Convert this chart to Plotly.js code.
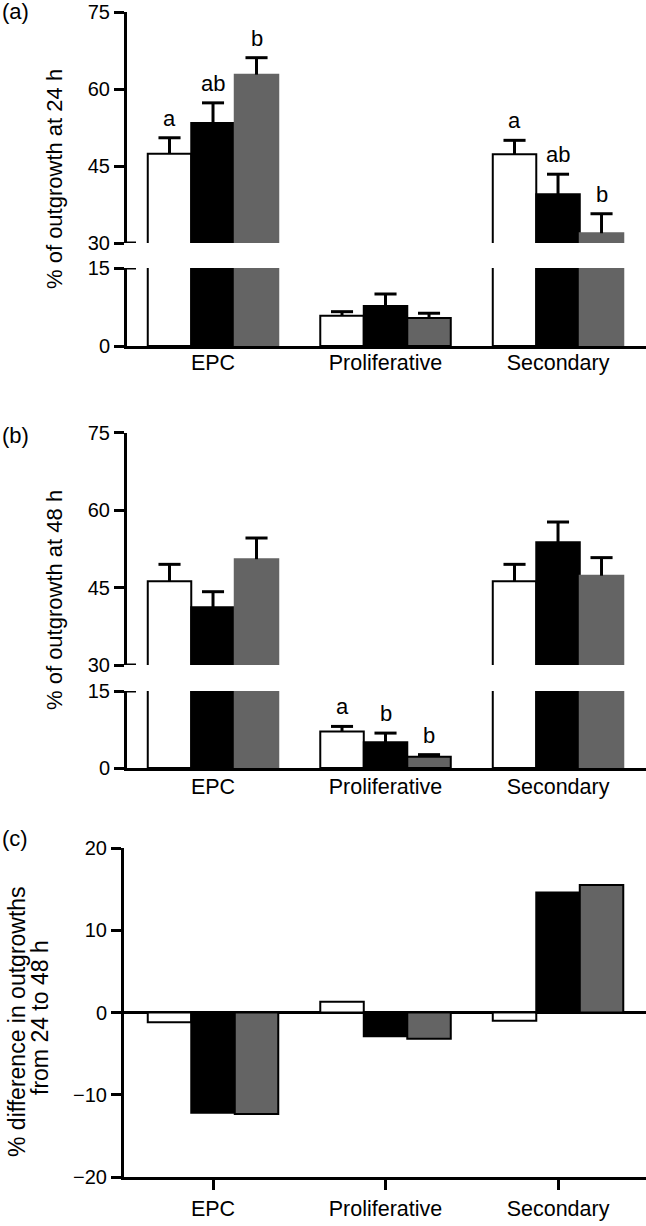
<!DOCTYPE html>
<html>
<head>
<meta charset="utf-8">
<script src="https://cdn.plot.ly/plotly-3.0.1.min.js"></script>
<style>html,body{margin:0;padding:0;background:#fff;}#chart{width:646px;height:1226px;}</style>
</head>
<body>
<div id="chart"></div>
<script>
// ---------- DATA ----------
const categories = ['EPC', 'Proliferative', 'Secondary'];
const seriesNames = ['White', 'Black', 'Grey'];

// (a) % of outgrowth at 24 h
const a24White = [47.4, 5.8, 47.3];
const a24WhiteErr = [3.1, 0.8, 2.7];
const a24Black = [53.4, 7.7, 39.5];
const a24BlackErr = [3.9, 2.3, 3.9];
const a24Grey = [62.8, 5.4, 31.9];
const a24GreyErr = [3.3, 0.9, 3.8];
const a24Letters = [['a', '', 'a'], ['ab', '', 'ab'], ['b', '', 'b']];

// (b) % of outgrowth at 48 h
const b48White = [46.2, 7.1, 46.2];
const b48WhiteErr = [3.3, 1.0, 3.3];
const b48Black = [41.2, 5.0, 53.8];
const b48BlackErr = [3.0, 1.8, 3.9];
const b48Grey = [50.5, 2.2, 47.3];
const b48GreyErr = [4.1, 0.4, 3.5];
const b48Letters = [['', 'a', ''], ['', 'b', ''], ['', 'b', '']];

// (c) % difference in outgrowths from 24 to 48 h
const cWhite = [-1.2, 1.3, -1.0];
const cBlack = [-12.2, -2.9, 14.6];
const cGrey = [-12.35, -3.2, 15.5];

const yTicksUpper = [30, 45, 60, 75];
const yTicksLower = [0, 15];
const yTicksC = [-20, -10, 0, 10, 20];

// ---------- STYLE / LAYOUT ----------
const W = 646, H = 1226;
const px = v => v / W;
const py = v => 1 - v / H;
const FONT = 'Liberation Sans, Arial, Helvetica, sans-serif';
const fills = ['#ffffff', '#000000', '#646464'];
const brokenLineColors = [['#000', '#000', '#000'], ['#000', '#000', '#000'], ['#646464', '#000', '#646464']];
const barOffsets = [-0.2522, 0, 0.2522];
const capHalf = 0.064;
const xIdx = categories.map((_, i) => i);
const BREAK = 15;

const traces = [];
function addBroken(vals, errs, xa, yaLow, yaUp) {
  [yaLow, yaUp].forEach(ya => {
    vals.forEach((v, s) => {
      traces.push({
        type: 'bar', x: xIdx, y: v, name: seriesNames[s], xaxis: xa, yaxis: ya,
        marker: {color: fills[s], line: {color: brokenLineColors[s], width: 2}},
        showlegend: false, hoverinfo: 'skip'
      });
    });
  });
  // one-sided (upper) error bars drawn as lines on the segment holding the bar top
  [yaLow, yaUp].forEach(ya => {
    const ex = [], ey = [];
    vals.forEach((v, s) => v.forEach((val, i) => {
      const onUpper = val > BREAK;
      if ((ya === yaUp) !== onUpper) return;
      const xc = i + barOffsets[s], top = val + errs[s][i];
      ex.push(xc, xc, null, xc - capHalf, xc + capHalf, null);
      ey.push(val, top, null, top, top, null);
    }));
    traces.push({type: 'scatter', mode: 'lines', x: ex, y: ey, xaxis: xa, yaxis: ya,
      line: {color: '#000', width: 3}, showlegend: false, hoverinfo: 'skip', connectgaps: false});
  });
}
addBroken([a24White, a24Black, a24Grey], [a24WhiteErr, a24BlackErr, a24GreyErr], 'x', 'y', 'y2');
addBroken([b48White, b48Black, b48Grey], [b48WhiteErr, b48BlackErr, b48GreyErr], 'x2', 'y3', 'y4');
[cWhite, cBlack, cGrey].forEach((v, s) => {
  traces.push({
    type: 'bar', x: xIdx, y: v, name: seriesNames[s], xaxis: 'x3', yaxis: 'y5',
    marker: {color: fills[s], line: {color: '#000', width: 2}},
    showlegend: false, hoverinfo: 'skip'
  });
});

const tickFont = {family: FONT, size: 20, color: '#000'};
const xFont = {family: FONT, size: 21.5, color: '#000'};
function yAxis(domain, range, tickvals, anchor) {
  return {domain: domain, range: range, tickvals: tickvals, anchor: anchor,
    showline: true, linewidth: 3, linecolor: '#000', ticks: 'outside', ticklen: 10, tickwidth: 3,
    tickcolor: '#000', showgrid: false, zeroline: false, tickfont: tickFont, fixedrange: true};
}
function xAxis(domain, range, anchor, ticks, standoff) {
  return {domain: domain, range: range, anchor: anchor, type: 'linear',
    tickvals: xIdx, ticktext: categories,
    showline: true, linewidth: 3, linecolor: '#000', ticks: ticks, ticklen: 10, tickwidth: 3,
    ticklabelstandoff: standoff,
    tickcolor: '#000', showgrid: false, zeroline: false, tickfont: xFont, fixedrange: true};
}

const xdA = [px(127), 1], xdC = [px(124), 1];
const layout = {
  width: W, height: H, autosize: false,
  margin: {l: 0, r: 0, t: 0, b: 0, pad: 0},
  paper_bgcolor: '#fff', plot_bgcolor: 'rgba(0,0,0,0)',
  barmode: 'group', bargap: 0.2435, bargroupgap: 0,
  font: {family: FONT, color: '#000'},
  xaxis: xAxis(xdA, [-0.4986, 2.51], 'y', '', -5),
  yaxis: yAxis([py(346), py(268)], [0, 15], yTicksLower, 'x'),
  yaxis2: yAxis([py(243), py(12)], [30, 75], yTicksUpper, 'x'),
  xaxis2: xAxis(xdA, [-0.4986, 2.51], 'y3', '', -3),
  yaxis3: yAxis([py(768), py(691)], [0, 15], yTicksLower, 'x2'),
  yaxis4: yAxis([py(665), py(432.7)], [30, 75], yTicksUpper, 'x2'),
  xaxis3: xAxis(xdC, [-0.516, 2.51], 'y5', 'outside', 0),
  yaxis5: Object.assign(yAxis([py(1177), py(848)], [-20, 20], yTicksC, 'x3'),
                        {zeroline: true, zerolinewidth: 3, zerolinecolor: '#000'}),
  shapes: [], annotations: []
};

// break-end ticks crossing the axis
[['y2', 30], ['y', 15], ['y4', 30], ['y3', 15]].forEach(([yr, yv]) => {
  layout.shapes.push({type: 'line', xref: 'paper', xsizemode: 'pixel', xanchor: xdA[0], x0: -1, x1: 9,
    yref: yr, y0: yv, y1: yv, line: {color: '#000', width: 3}});
});

// significance letters
function addLetters(letters, vals, errs, xr, yLow, yUp) {
  letters.forEach((row, s) => row.forEach((t, i) => {
    if (!t) return;
    const top = vals[s][i] + errs[s][i];
    layout.annotations.push({text: t, xref: xr, yref: vals[s][i] > BREAK ? yUp : yLow,
      x: i + barOffsets[s], y: top, xanchor: 'center', yanchor: 'bottom', yshift: 5,
      showarrow: false, font: {family: FONT, size: 22, color: '#000'}});
  }));
}
addLetters(a24Letters, [a24White, a24Black, a24Grey], [a24WhiteErr, a24BlackErr, a24GreyErr], 'x', 'y', 'y2');
addLetters(b48Letters, [b48White, b48Black, b48Grey], [b48WhiteErr, b48BlackErr, b48GreyErr], 'x2', 'y3', 'y4');

// titles and panel labels
function note(text, x, y, angle, xanchor, size) {
  layout.annotations.push({text: text, xref: 'paper', yref: 'paper', x: px(x), y: py(y),
    xanchor: xanchor || 'center', yanchor: 'middle', textangle: angle || 0, showarrow: false,
    font: {family: FONT, size: size || 22, color: '#000'}});
}
note('% of outgrowth at 24 h', 54, 179, -90);
note('% of outgrowth at 48 h', 54, 600, -90);
note('% difference in outgrowths', 17, 1022, -90, 'center', 23);
note('from 24 to 48 h', 40, 1018, -90, 'center', 23);
note('(a)', 0, 12, 0, 'left');
note('(b)', 0, 435, 0, 'left');
note('(c)', 0, 838, 0, 'left');

Plotly.newPlot('chart', traces, layout, {staticPlot: true, displayModeBar: false});
</script>
</body>
</html>
